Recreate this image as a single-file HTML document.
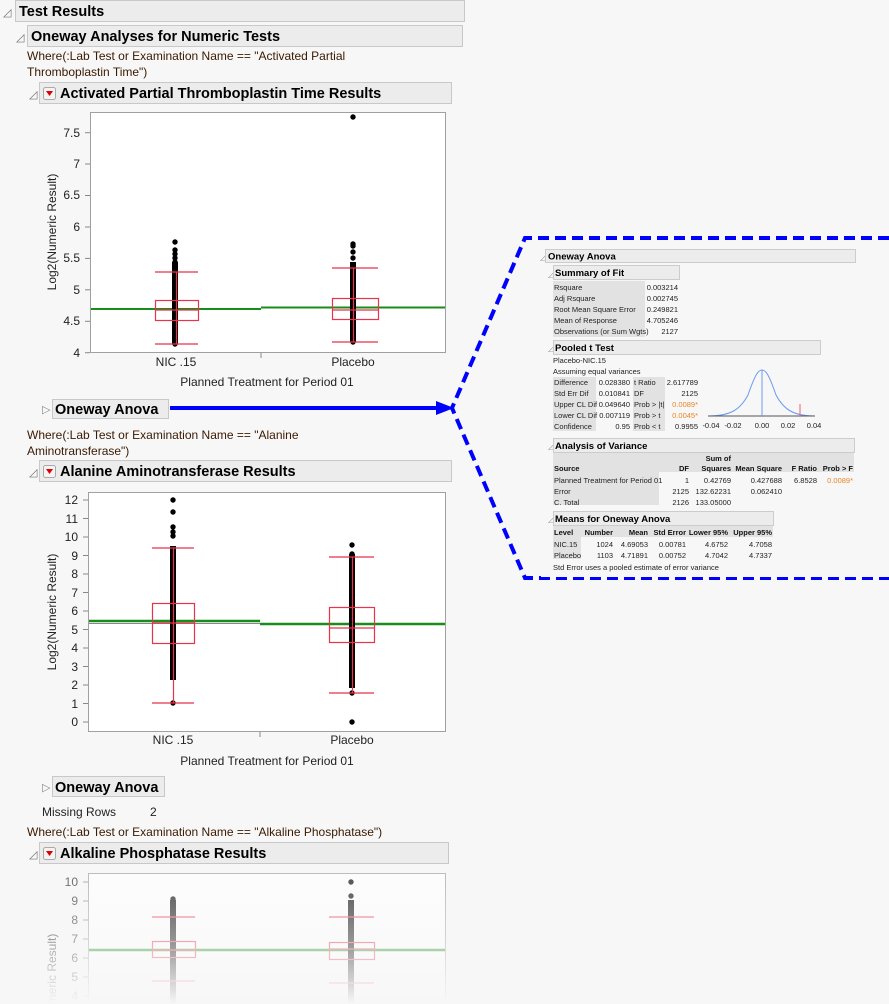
<!DOCTYPE html>
<html><head><meta charset="utf-8"><style>
body{margin:0;background:#f7f7f7;width:889px;height:1004px;overflow:hidden}
svg{display:block;font-family:"Liberation Sans",sans-serif}
.h{font-weight:bold;font-size:14.5px;fill:#000}
.w{font-size:12px;fill:#3b1a00}
.t{font-size:12px;fill:#222}
.s{font-size:7.5px;fill:#222}
.sb{font-size:7.5px;font-weight:bold;fill:#111}
.sh{font-size:9.5px;font-weight:bold;fill:#000}
</style></head><body>
<svg width="889" height="1004" viewBox="0 0 889 1004">
<defs>
<linearGradient id="fade" x1="0" y1="0" x2="0" y2="1">
<stop offset="0" stop-color="#f7f7f7" stop-opacity="0.3"/>
<stop offset="0.55" stop-color="#f7f7f7" stop-opacity="0.6"/>
<stop offset="1" stop-color="#f7f7f7" stop-opacity="1"/>
</linearGradient>
</defs>
<text x="3" y="16" font-size="11" fill="#777">◿</text>
<rect x="15.5" y="0.5" width="449" height="21" fill="#ececec" stroke="#c8c8c8"/>
<text x="19" y="16" class="h">Test Results</text>
<text x="16" y="41" font-size="11" fill="#777">◿</text>
<rect x="27.5" y="25.5" width="435" height="21" fill="#ececec" stroke="#c8c8c8"/>
<text x="31" y="41" class="h">Oneway Analyses for Numeric Tests</text>
<text x="27" y="60" class="w">Where(:Lab Test or Examination Name == "Activated Partial</text>
<text x="27" y="76" class="w">Thromboplastin Time")</text>
<text x="29" y="98" font-size="11" fill="#777">◿</text>
<rect x="39.5" y="82.5" width="412" height="21" fill="#ececec" stroke="#c8c8c8"/>
<rect x="43.5" y="87.5" width="12" height="12" rx="2" fill="#f4f4f4" stroke="#aaa"/>
<path d="M46 91 L53 91 L49.5 96Z" fill="#d00"/>
<text x="60" y="98" class="h">Activated Partial Thromboplastin Time Results</text>

<rect x="90.5" y="112.5" width="355" height="240" fill="#fff" stroke="#a0a0a0"/>
<g stroke="#888" stroke-width="1">
<line x1="85" y1="352.7" x2="90" y2="352.7"/><line x1="85" y1="321.3" x2="90" y2="321.3"/><line x1="85" y1="289.8" x2="90" y2="289.8"/><line x1="85" y1="258.4" x2="90" y2="258.4"/><line x1="85" y1="227" x2="90" y2="227"/><line x1="85" y1="195.5" x2="90" y2="195.5"/><line x1="85" y1="164" x2="90" y2="164"/><line x1="85" y1="132.7" x2="90" y2="132.7"/>
<line x1="261" y1="353" x2="261" y2="358"/>
</g>
<g class="t" text-anchor="end">
<text x="80" y="357">4</text><text x="80" y="325">4.5</text><text x="80" y="294">5</text><text x="80" y="262">5.5</text><text x="80" y="231">6</text><text x="80" y="199">6.5</text><text x="80" y="168">7</text><text x="80" y="137">7.5</text>
</g>
<text transform="translate(56,232) rotate(-90)" class="t" font-size="11.5" text-anchor="middle">Log2(Numeric Result)</text>
<text x="176" y="366" class="t" text-anchor="middle">NIC .15</text>
<text x="353" y="366" class="t" text-anchor="middle">Placebo</text>
<text x="267" y="386" class="t" text-anchor="middle">Planned Treatment for Period 01</text>
<line x1="91" y1="309" x2="261" y2="309" stroke="#1a8c1a" stroke-width="2"/>
<line x1="261" y1="307.5" x2="445" y2="307.5" stroke="#1a8c1a" stroke-width="2"/>
<rect x="172" y="262" width="6" height="82" fill="#000"/>
<circle cx="175" cy="242" r="2.7"/><circle cx="175" cy="250" r="2.7"/><circle cx="175" cy="254" r="2.7"/><circle cx="175" cy="258" r="2.7"/><circle cx="175" cy="262" r="2.7"/><circle cx="175" cy="344" r="2.7"/>
<rect x="350" y="262" width="6" height="80" fill="#000"/>
<circle cx="353" cy="117" r="2.7"/><circle cx="353" cy="244" r="2.7"/><circle cx="353" cy="246" r="2.7"/><circle cx="353" cy="252" r="2.7"/><circle cx="353" cy="258" r="2.7"/><circle cx="353" cy="342" r="2.7"/>
<g stroke="#e8334a" stroke-width="1.2" fill="none">
<rect x="155.5" y="300.5" width="43" height="20"/><line x1="155" y1="310" x2="198" y2="310"/><line x1="155" y1="272" x2="198" y2="272"/><line x1="155" y1="344" x2="198" y2="344"/><line x1="176.5" y1="272" x2="176.5" y2="344"/>
<rect x="332.5" y="298.5" width="46" height="21"/><line x1="332" y1="310" x2="378" y2="310"/><line x1="332" y1="268" x2="378" y2="268"/><line x1="332" y1="342" x2="378" y2="342"/><line x1="353.5" y1="268" x2="353.5" y2="342"/>
</g>

<text x="42" y="413" font-size="11" fill="#888">▷</text>
<rect x="52.5" y="399.5" width="116" height="19" fill="#ececec" stroke="#c8c8c8"/>
<text x="55" y="414" class="h">Oneway Anova</text>
<line x1="170" y1="408" x2="438" y2="408" stroke="#0000ff" stroke-width="4"/>
<path d="M436 401 L454 408 L436 415Z" fill="#0000ff"/>
<path d="M889 238 L525 238 L452 408 L525 578 L889 578" fill="none" stroke="#0000ff" stroke-width="4" stroke-dasharray="11,6"/>

<text x="27" y="439" class="w">Where(:Lab Test or Examination Name == "Alanine</text>
<text x="27" y="455" class="w">Aminotransferase")</text>
<text x="29" y="476" font-size="11" fill="#777">◿</text>
<rect x="39.5" y="460.5" width="412" height="21" fill="#ececec" stroke="#c8c8c8"/>
<rect x="43.5" y="465.5" width="12" height="12" rx="2" fill="#f4f4f4" stroke="#aaa"/>
<path d="M46 469 L53 469 L49.5 474Z" fill="#d00"/>
<text x="60" y="476" class="h">Alanine Aminotransferase Results</text>

<rect x="88.5" y="492.5" width="357" height="239" fill="#fff" stroke="#a0a0a0"/>
<g stroke="#888">
<line x1="83" y1="722" x2="88" y2="722"/><line x1="83" y1="703.5" x2="88" y2="703.5"/><line x1="83" y1="685" x2="88" y2="685"/><line x1="83" y1="666.5" x2="88" y2="666.5"/><line x1="83" y1="648" x2="88" y2="648"/><line x1="83" y1="629.5" x2="88" y2="629.5"/><line x1="83" y1="611" x2="88" y2="611"/><line x1="83" y1="592.5" x2="88" y2="592.5"/><line x1="83" y1="574" x2="88" y2="574"/><line x1="83" y1="555.5" x2="88" y2="555.5"/><line x1="83" y1="537" x2="88" y2="537"/><line x1="83" y1="518.5" x2="88" y2="518.5"/><line x1="83" y1="500" x2="88" y2="500"/>
<line x1="260" y1="732" x2="260" y2="737"/>
</g>
<g class="t" text-anchor="end">
<text x="78" y="726">0</text><text x="78" y="708">1</text><text x="78" y="689">2</text><text x="78" y="671">3</text><text x="78" y="652">4</text><text x="78" y="634">5</text><text x="78" y="615">6</text><text x="78" y="597">7</text><text x="78" y="578">8</text><text x="78" y="560">9</text><text x="78" y="541">10</text><text x="78" y="523">11</text><text x="78" y="504">12</text>
</g>
<text transform="translate(56,612) rotate(-90)" class="t" font-size="11.5" text-anchor="middle">Log2(Numeric Result)</text>
<text x="173" y="744" class="t" text-anchor="middle">NIC .15</text>
<text x="352" y="744" class="t" text-anchor="middle">Placebo</text>
<text x="267" y="765" class="t" text-anchor="middle">Planned Treatment for Period 01</text>
<line x1="89" y1="623.5" x2="445" y2="623.5" stroke="#888" stroke-width="1"/>
<line x1="89" y1="621" x2="260" y2="621" stroke="#1a8c1a" stroke-width="2.5"/>
<line x1="260" y1="624" x2="445" y2="624" stroke="#1a8c1a" stroke-width="2.5"/>
<rect x="170" y="546" width="6" height="134" fill="#000"/>
<circle cx="173" cy="500" r="2.7"/><circle cx="173" cy="512" r="2.7"/><circle cx="173" cy="527" r="2.7"/><circle cx="173" cy="532" r="2.7"/><circle cx="173" cy="536" r="2.7"/><circle cx="173" cy="703" r="2.7"/>
<rect x="349" y="554" width="6" height="134" fill="#000"/>
<circle cx="352" cy="545" r="2.7"/><circle cx="352" cy="554" r="2.7"/><circle cx="352" cy="693" r="2.7"/><circle cx="352" cy="722" r="2.7"/>
<g stroke="#e8334a" stroke-width="1.2" fill="none">
<rect x="152.5" y="603.5" width="42" height="40"/><line x1="152" y1="623" x2="194" y2="623"/><line x1="152" y1="548" x2="194" y2="548"/><line x1="152" y1="703" x2="194" y2="703"/><line x1="173.5" y1="548" x2="173.5" y2="703"/>
<rect x="329.5" y="607.5" width="45" height="35"/><line x1="329" y1="628" x2="374" y2="628"/><line x1="329" y1="557" x2="374" y2="557"/><line x1="329" y1="693" x2="374" y2="693"/><line x1="352.5" y1="557" x2="352.5" y2="693"/>
</g>

<text x="42" y="791" font-size="11" fill="#888">▷</text>
<rect x="52.5" y="776.5" width="112" height="20" fill="#ececec" stroke="#c8c8c8"/>
<text x="55" y="792" class="h">Oneway Anova</text>
<text x="42" y="816" class="t">Missing Rows</text>
<text x="150" y="816" class="t">2</text>
<text x="27" y="836" class="w">Where(:Lab Test or Examination Name == "Alkaline Phosphatase")</text>
<text x="29" y="858" font-size="11" fill="#777">◿</text>
<rect x="39.5" y="842.5" width="409" height="21" fill="#ececec" stroke="#c8c8c8"/>
<rect x="43.5" y="847.5" width="12" height="12" rx="2" fill="#f4f4f4" stroke="#aaa"/>
<path d="M46 851 L53 851 L49.5 856Z" fill="#d00"/>
<text x="60" y="858" class="h">Alkaline Phosphatase Results</text>

<rect x="88.5" y="873.5" width="357" height="140" fill="#fff" stroke="#a0a0a0"/>
<g stroke="#888">
<line x1="83" y1="882" x2="88" y2="882"/><line x1="83" y1="901" x2="88" y2="901"/><line x1="83" y1="920" x2="88" y2="920"/><line x1="83" y1="939" x2="88" y2="939"/><line x1="83" y1="958" x2="88" y2="958"/><line x1="83" y1="977" x2="88" y2="977"/><line x1="83" y1="996" x2="88" y2="996"/>
</g>
<g class="t" text-anchor="end">
<text x="78" y="886">10</text><text x="78" y="905">9</text><text x="78" y="924">8</text><text x="78" y="943">7</text><text x="78" y="962">6</text><text x="78" y="981">5</text><text x="78" y="1000">4</text>
</g>
<text transform="translate(56,992) rotate(-90)" class="t" font-size="11.5" text-anchor="middle">Log2(Numeric Result)</text>
<line x1="89" y1="950" x2="445" y2="950" stroke="#1a8c1a" stroke-width="2.5"/>
<rect x="170" y="900" width="6" height="104" fill="#000"/>
<circle cx="173" cy="899" r="2.7"/>
<rect x="348" y="900" width="6" height="104" fill="#000"/>
<circle cx="351" cy="882" r="2.7"/><circle cx="351" cy="896" r="2.7"/>
<g stroke="#e8334a" stroke-width="1.2" fill="none">
<rect x="152.5" y="941.5" width="43" height="16"/><line x1="152" y1="950" x2="195" y2="950"/><line x1="152" y1="917" x2="195" y2="917"/><line x1="152" y1="981" x2="195" y2="981"/>
<rect x="329.5" y="942.5" width="45" height="17"/><line x1="329" y1="949" x2="374" y2="949"/><line x1="329" y1="917" x2="374" y2="917"/><line x1="329" y1="983" x2="374" y2="983"/>
</g>
<rect x="30" y="866" width="430" height="138" fill="url(#fade)"/>

<rect x="541" y="244" width="348" height="333" fill="#f7f7f7"/>
<text x="540" y="260" font-size="7" fill="#888">◿</text>
<rect x="545.5" y="249.5" width="310" height="13" fill="#ececec" stroke="#ccc"/>
<text x="548" y="259.5" class="sh">Oneway Anova</text>
<text x="548" y="277" font-size="7" fill="#888">◿</text>
<rect x="553.5" y="265.5" width="126" height="14" fill="#ececec" stroke="#ccc"/>
<text x="555" y="276" class="sh">Summary of Fit</text>
<rect x="553" y="281" width="92" height="56" fill="#e2e2e2"/>
<g class="s">
<text x="554" y="290">Rsquare</text><text x="554" y="301">Adj Rsquare</text><text x="554" y="312">Root Mean Square Error</text><text x="554" y="323">Mean of Response</text><text x="554" y="334">Observations (or Sum Wgts)</text>
</g>
<g class="s" text-anchor="end">
<text x="678" y="290">0.003214</text><text x="678" y="301">0.002745</text><text x="678" y="312">0.249821</text><text x="678" y="323">4.705246</text><text x="678" y="334">2127</text>
</g>
<text x="548" y="351" font-size="7" fill="#888">◿</text>
<rect x="553.5" y="340.5" width="267" height="14" fill="#ececec" stroke="#ccc"/>
<text x="555" y="351" class="sh">Pooled t Test</text>
<text x="553" y="363" class="s">Placebo-NIC.15</text>
<text x="553" y="374" class="s">Assuming equal variances</text>
<rect x="553" y="377" width="43" height="54" fill="#e2e2e2"/>
<rect x="633" y="377" width="32" height="54" fill="#e2e2e2"/>
<g class="s">
<text x="554" y="385">Difference</text><text x="554" y="396">Std Err Dif</text><text x="554" y="407">Upper CL Dif</text><text x="554" y="418">Lower CL Dif</text><text x="554" y="429">Confidence</text>
<text x="634" y="385">t Ratio</text><text x="634" y="396">DF</text><text x="634" y="407">Prob &gt; |t|</text><text x="634" y="418">Prob &gt; t</text><text x="634" y="429">Prob &lt; t</text>
</g>
<g class="s" text-anchor="end">
<text x="630" y="385">0.028380</text><text x="630" y="396">0.010841</text><text x="630" y="407">0.049640</text><text x="630" y="418">0.007119</text><text x="630" y="429">0.95</text>
<text x="698" y="385">2.617789</text><text x="698" y="396">2125</text><text x="698" y="407" fill="#e8862a">0.0089*</text><text x="698" y="418" fill="#e8862a">0.0045*</text><text x="698" y="429">0.9955</text>
</g>
<path d="M708 416 C730 416 740 410 748 395 C755 375 758 370 762 370 C766 370 769 375 776 395 C784 410 794 416 815 416" fill="none" stroke="#6b9bef" stroke-width="1"/>
<line x1="708" y1="416" x2="815" y2="416" stroke="#555" stroke-width="1"/>
<line x1="762" y1="370" x2="762" y2="416" stroke="#6b9bef"/>
<line x1="800" y1="404" x2="800" y2="416" stroke="#f06070"/>
<g class="s" text-anchor="middle">
<text x="711" y="428">-0.04</text><text x="733" y="428">-0.02</text><text x="762" y="428">0.00</text><text x="788" y="428">0.02</text><text x="814" y="428">0.04</text>
</g>
<text x="548" y="449" font-size="7" fill="#888">◿</text>
<rect x="553.5" y="438.5" width="301" height="14" fill="#ececec" stroke="#ccc"/>
<text x="555" y="449" class="sh">Analysis of Variance</text>
<rect x="553" y="453" width="301" height="19" fill="#e2e2e2"/>
<rect x="553" y="472" width="106" height="33" fill="#e2e2e2"/>
<g class="sb" text-anchor="end">
<text x="731" y="461">Sum of</text>
<text x="689" y="471">DF</text><text x="731" y="471">Squares</text><text x="782" y="471">Mean Square</text><text x="817" y="471">F Ratio</text><text x="853" y="471">Prob &gt; F</text>
</g>
<text x="554" y="471" class="sb">Source</text>
<g class="s">
<text x="554" y="483">Planned Treatment for Period 01</text><text x="554" y="494">Error</text><text x="554" y="505">C. Total</text>
</g>
<g class="s" text-anchor="end">
<text x="689" y="483">1</text><text x="731" y="483">0.42769</text><text x="782" y="483">0.427688</text><text x="817" y="483">6.8528</text><text x="853" y="483" fill="#e8862a">0.0089*</text>
<text x="689" y="494">2125</text><text x="731" y="494">132.62231</text><text x="782" y="494">0.062410</text>
<text x="689" y="505">2126</text><text x="731" y="505">133.05000</text>
</g>
<text x="548" y="522" font-size="7" fill="#888">◿</text>
<rect x="553.5" y="511.5" width="220" height="14" fill="#ececec" stroke="#ccc"/>
<text x="555" y="522" class="sh">Means for Oneway Anova</text>
<rect x="553" y="526" width="220" height="11" fill="#e2e2e2"/>
<rect x="553" y="537" width="28" height="22" fill="#e2e2e2"/>
<text x="554" y="535" class="sb">Level</text>
<g class="sb" text-anchor="end">
<text x="613" y="535">Number</text><text x="648" y="535">Mean</text><text x="686" y="535">Std Error</text><text x="728" y="535">Lower 95%</text><text x="772" y="535">Upper 95%</text>
</g>
<g class="s">
<text x="554" y="547">NIC.15</text><text x="554" y="558">Placebo</text>
</g>
<g class="s" text-anchor="end">
<text x="613" y="547">1024</text><text x="648" y="547">4.69053</text><text x="686" y="547">0.00781</text><text x="728" y="547">4.6752</text><text x="772" y="547">4.7058</text>
<text x="613" y="558">1103</text><text x="648" y="558">4.71891</text><text x="686" y="558">0.00752</text><text x="728" y="558">4.7042</text><text x="772" y="558">4.7337</text>
</g>
<text x="553" y="570" class="s">Std Error uses a pooled estimate of error variance</text>
</svg>
</body></html>
